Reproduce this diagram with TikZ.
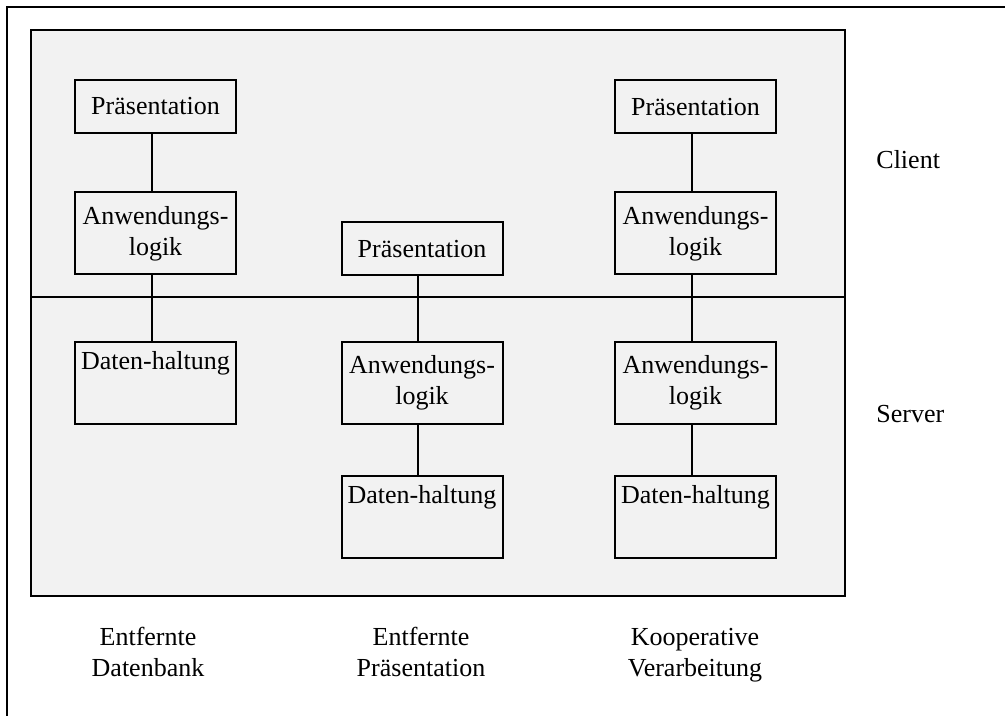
\documentclass[tikz,border=0pt]{standalone}
\usepackage{fontspec}
\setmainfont{Liberation Serif}
\usetikzlibrary{calc}
\definecolor{panelgray}{HTML}{F2F2F2}
\begin{document}
\begin{tikzpicture}[x=0.5pt,y=-0.5pt,
  every node/.style={font=\fontsize{13pt}{15.5pt}\selectfont, align=center, inner sep=0pt},
  tierbox/.style={draw, line width=1pt, fill=panelgray, minimum width=80.5pt},
  shortbox/.style={tierbox, minimum height=26.5pt},
  tallbox/.style={tierbox, minimum height=41pt},
  link/.style={line width=1pt},
  sidelabel/.style={anchor=west}
]
\useasboundingbox (0,0) rectangle (1005,716);

% outer frame (runs past the page on the right and bottom)
\draw[line width=1pt] (7,740) -- (7,7) -- (1030,7);

% shaded panel with the client/server divider
\node[draw, line width=1pt, fill=panelgray, anchor=north west,
      minimum width=407pt, minimum height=283pt] (panel) at (30,29) {};
\coordinate (divL) at (30,297);
\coordinate (divR) at (844,297);
\draw[link] (divL) -- (divR);

% left column: Entfernte Datenbank
\node[shortbox] (p1) at (155.5,106.5) {Präsentation};
\node[tallbox]  (a1) at (155.5,233.5) {Anwendungs-\\logik};
\node[tallbox, label={[anchor=base,yshift=-14.4pt]north:Daten-haltung}] (d1) at (155.5,382.5) {};

% middle column: Entfernte Präsentation
\node[shortbox] (p2) at (422,249) {Präsentation};
\node[tallbox]  (a2) at (422,382.5) {Anwendungs-\\logik};
\node[tallbox, label={[anchor=base,yshift=-14.4pt]north:Daten-haltung}] (d2) at (422,516.5) {};

% right column: Kooperative Verarbeitung
\node[shortbox] (p3) at (695.5,107) {Präsentation};
\node[tallbox]  (a3) at (695.5,233.5) {Anwendungs-\\logik};
\node[tallbox]  (a4) at (695.5,382.5) {Anwendungs-\\logik};
\node[tallbox, label={[anchor=base,yshift=-14.4pt]north:Daten-haltung}] (d3) at (695.5,516.5) {};

% vertical links between layers
\draw[link] ([xshift=-2pt]p1.south) -- ([xshift=-2pt]a1.north);
\draw[link] ([xshift=-2pt]a1.south) -- ([xshift=-2pt]d1.north);
\draw[link] ([xshift=-2pt]p2.south) -- ([xshift=-2pt]a2.north);
\draw[link] ([xshift=-2pt]a2.south) -- ([xshift=-2pt]d2.north);
\draw[link] ([xshift=-2pt]p3.south) -- ([xshift=-2pt]a3.north);
\draw[link] ([xshift=-2pt]a3.south) -- ([xshift=-2pt]a4.north);
\draw[link] ([xshift=-2pt]a4.south) -- ([xshift=-2pt]d3.north);

% tier labels
\node[sidelabel] (client) at (876,160) {Client};
\node[sidelabel] (server) at (876,414) {Server};

% distribution variants (struts keep the baselines level)
\node (v1) at (148,654.3) {Entfernte\strut\\Datenbank\strut};
\node (v2) at (421,654.3) {Entfernte\strut\\Präsentation\strut};
\node (v3) at (695,654.3) {Kooperative\strut\\Verarbeitung\strut};
\end{tikzpicture}
\end{document}
